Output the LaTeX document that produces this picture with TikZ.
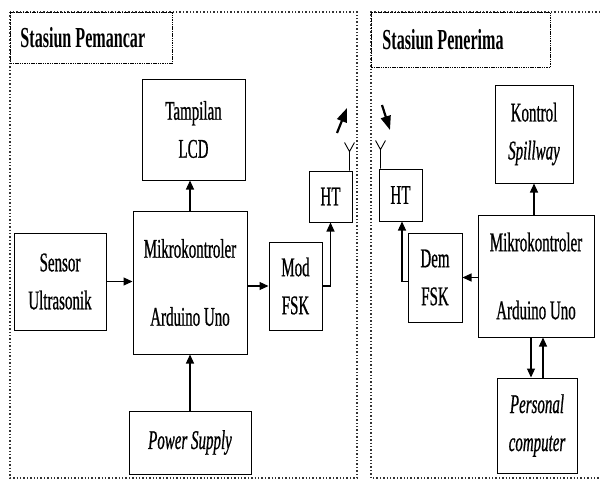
\documentclass[tikz,border=0pt]{standalone}
\usepackage{fontspec}
\setmainfont{Liberation Serif}[FakeStretch=0.555,
  UprightFeatures={FakeBold=0.7}, ItalicFeatures={FakeBold=0.7}]
\usetikzlibrary{arrows.meta,positioning,calc}
\tikzset{
  blk/.style={draw, line width=1pt, align=center, inner sep=0pt,
              font=\fontsize{27}{38}\selectfont},
  ttl/.style={draw, dash pattern=on 1.5pt off 0.8pt, line width=0.9pt,
              anchor=north west, align=left, inner ysep=0pt,
              font=\bfseries\fontsize{29}{30}\selectfont},
  zone/.style={dotted, line width=1.4pt, black!80},
  ar/.style={-{Triangle[length=9pt,width=8pt]}, line width=1.1pt},
  wave/.style={-{Triangle[length=14pt,width=10pt]}, line width=2.2pt},
  ant/.style={line width=0.9pt},
}

\begin{document}
\begin{tikzpicture}[x=1pt,y=-1pt]
  \useasboundingbox (0,0) rectangle (600,480);
  % stations
  \draw[zone] (10,12) rectangle (357,478);
  \draw[zone] (600,12) -- (371,12) -- (371,478) -- (600,478);
  \node[ttl, text width=142pt, inner xsep=10pt, minimum height=51pt] (ttlA) at (10,12) {Stasiun\hspace{4pt}Pemancar};
  \node[ttl, text width=157pt, inner xsep=11pt, minimum height=55pt] (ttlB) at (371,12) {Stasiun\hspace{4pt}Penerima};

  % transmitter
  \node[blk, minimum width=103pt, minimum height=101pt] (lcd) at (193.5,129.5) {Tampilan\\LCD};
  \node[blk, minimum width=114pt, minimum height=143pt] (mcuA) at (190,282.5) {Mikrokontroler\\[30pt]Arduino Uno};
  \node[blk, minimum width=92pt, minimum height=97pt] (sensor) at (60,281.5) {Sensor\\Ultrasonik};
  \node[blk, minimum width=122pt, minimum height=63pt] (power) at (190,442.5) {\itshape Power Supply};
  \node[blk, minimum width=53pt, minimum height=88pt] (mod) at (295.5,286) {Mod\\FSK};
  \node[blk, minimum width=43pt, minimum height=51pt] (htA) at (330.5,196.5) {HT};

  % receiver
  \node[blk, minimum width=43pt, minimum height=52pt] (htB) at (400.5,195) {HT};
  \node[blk, minimum width=54pt, minimum height=89pt] (dem) at (435,277.5) {Dem\\FSK};
  \node[blk, minimum width=116pt, minimum height=122pt] (mcuB) at (536,276) {Mikrokontroler\\[30pt]Arduino Uno};
  \node[blk, minimum width=78pt, minimum height=98pt] (ctrl) at (534,134) {Kontrol\\\textit{Spillway}};
  \node[blk, minimum width=80pt, minimum height=95pt] (pc) at (537,425.5) {\itshape Personal\\\itshape computer};

  % links, transmitter
  \draw[ar] (sensor.east) -- (sensor.east -| mcuA.west);
  \draw[ar] (mod.west -| mcuA.east) -- (mod.west);
  \draw[ar] (mcuA.north) -- (mcuA.north |- lcd.south);
  \draw[ar] (power.north) -- (power.north |- mcuA.south);
  \draw[ar] (mod.east) -| (htA.south);

  % links, receiver
  \draw[ar] (mcuB.west |- dem.east) -- (dem.east);
  \draw[ar] ([yshift=-4pt]dem.west) -| ([xshift=1.5pt]htB.south);
  \draw[ar] (ctrl.south |- mcuB.north) -- (ctrl.south);
  \draw[ar] ([xshift=-6pt]pc.north |- mcuB.south) -- ([xshift=-6pt]pc.north);
  \draw[ar] ([xshift=6pt]pc.north) -- ([xshift=6pt]pc.north |- mcuB.south);

  % antennas
  \coordinate (antA) at ($(htA.north east)+(-3,0)$);
  \draw[ant] (antA) -- ++(0,-19) coordinate (forkA)
             (forkA) -- ++(-5,-9) (forkA) -- ++(5,-9);
  \coordinate (antB) at ($(htB.north west)+(2,0)$);
  \draw[ant] (antB) -- ++(0,-19) coordinate (forkB)
             (forkB) -- ++(-5,-9) (forkB) -- ++(5,-9);
  \coordinate (txA) at (337,133);
  \coordinate (txB) at (347,108);
  \draw[wave] (txA) -- (txB);
  \coordinate (rxA) at (382,105);
  \coordinate (rxB) at (390,130);
  \draw[wave] (rxA) -- (rxB);
\end{tikzpicture}
\end{document}
